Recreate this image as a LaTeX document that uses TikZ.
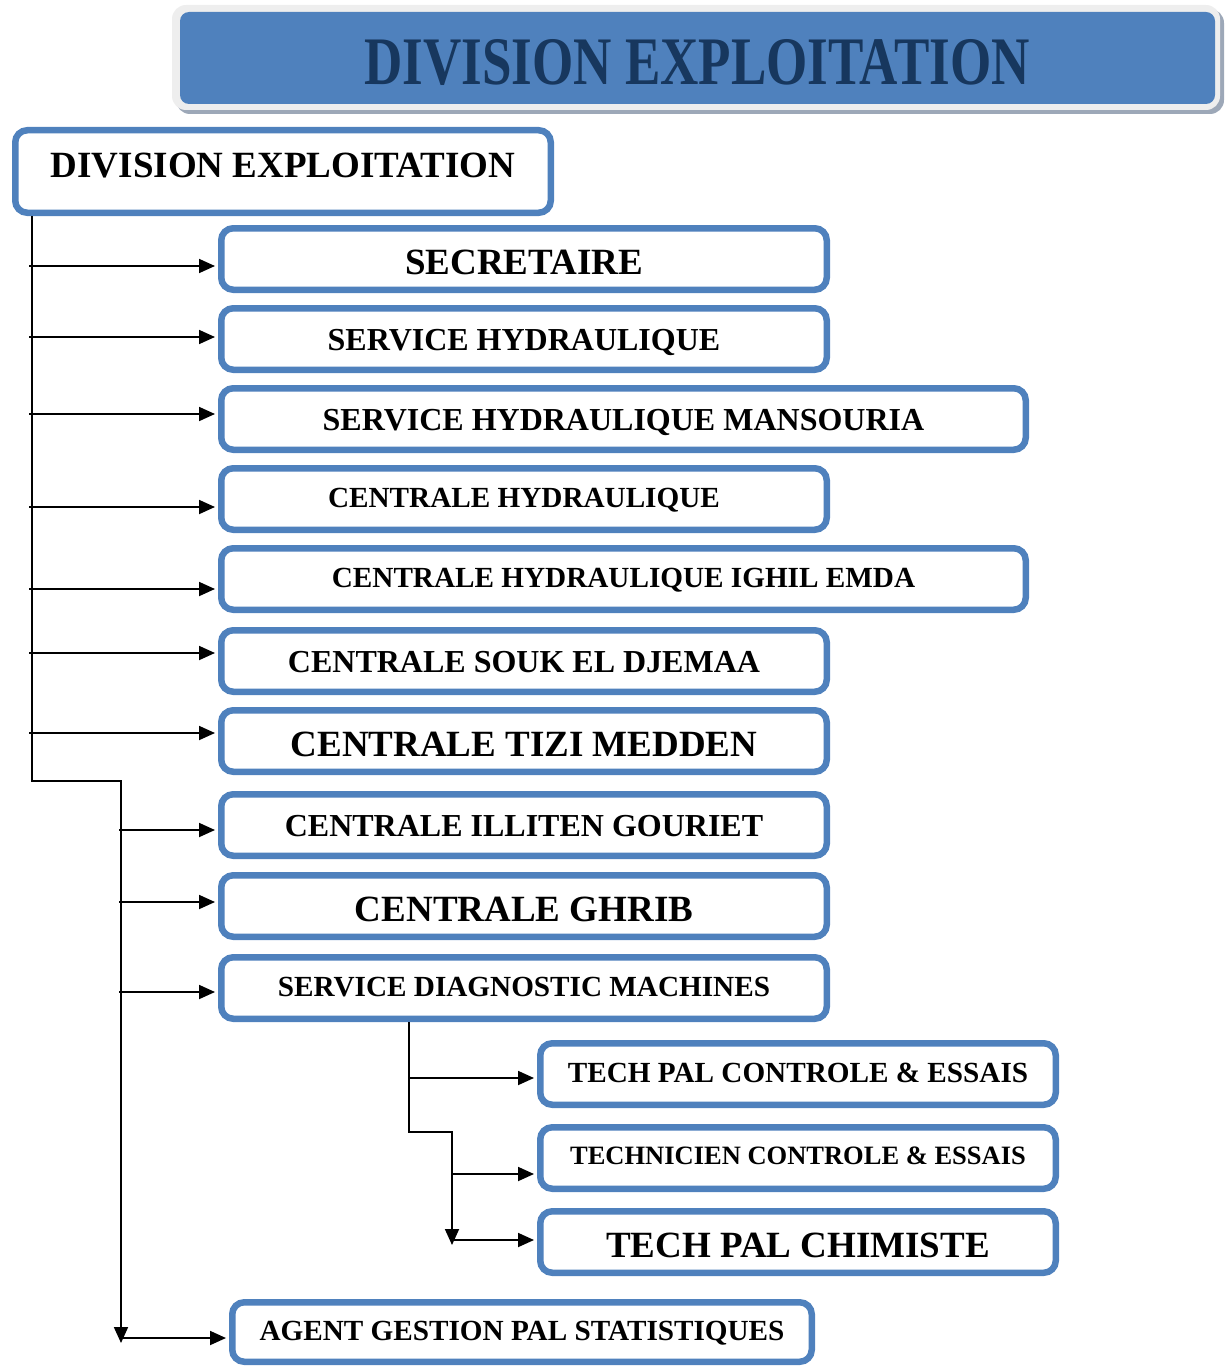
\documentclass[tikz,border=0pt]{standalone}
\usepackage{fontspec}
\setmainfont{Liberation Serif}
\usetikzlibrary{arrows.meta}
\definecolor{boxblue}{HTML}{4F81BD}
\definecolor{navy}{HTML}{17375E}
\definecolor{framegrey}{HTML}{EEEEEE}
\definecolor{shadowgrey}{HTML}{9DA8B8}
\newcommand{\fs}[1]{\fontsize{#1pt}{#1pt}\selectfont\bfseries}
\begin{document}
\begin{tikzpicture}[x=1pt,y=-1pt,
  box/.style={draw=boxblue, line width=6.5pt, rounded corners=12pt, fill=white,
    minimum height=61.5pt, inner sep=0pt, align=center},
  shortbox/.style={box, minimum width=605.5pt},
  longbox/.style={box, minimum width=804.5pt},
  subbox/.style={box, minimum width=515.5pt},
  wire/.style={line width=1.8pt, black},
  arrow/.style={wire, -{Triangle[length=16pt,width=14pt]}, shorten >=3pt},
  downarrow/.style={wire, -{Triangle[length=16pt,width=14pt]}},
  fA/.style={font=\fs{37}, text height=31.2pt, text depth=0pt},
  fB/.style={font=\fs{32}, text height=22pt, text depth=0pt},
  fC/.style={font=\fs{29.2}, text height=17.6pt, text depth=0pt},
  fD/.style={font=\fs{26.5}, text height=13.6pt, text depth=0pt}]
\useasboundingbox (0,0) rectangle (1225,1367);

% title banner
\fill[shadowgrey, rounded corners=14pt] (176,9) rectangle (1224,114);
\fill[framegrey, rounded corners=14pt] (172,5) rectangle (1220,110);
\fill[boxblue, rounded corners=9pt] (180,12) rectangle (1215,104);
\node[text=navy, font=\fs{68}, inner sep=0pt] (title) at (697,63)
  {\scalebox{0.78}[1]{DIVISION EXPLOITATION}};

% head of the division
\node[box, minimum width=535.5pt, minimum height=82.5pt, font=\fs{37},
  text height=11.2pt, text depth=0pt] (main) at (283,171.5)
  {DIVISION EXPLOITATION};

% units
\node[shortbox, fA] (b1) at (524,259) {SECRETAIRE};
\node[shortbox, fB] (b2) at (524,339) {SERVICE HYDRAULIQUE};
\node[longbox, fB] (b3) at (623.5,419) {SERVICE HYDRAULIQUE MANSOURIA};
\node[shortbox, fC] (b4) at (524,499) {CENTRALE HYDRAULIQUE};
\node[longbox, fC] (b5) at (623.5,579) {CENTRALE HYDRAULIQUE IGHIL EMDA};
\node[shortbox, fB] (b6) at (524,661) {CENTRALE SOUK EL DJEMAA};
\node[shortbox, fA] (b7) at (524,741) {CENTRALE TIZI MEDDEN};
\node[shortbox, fB] (b8) at (524,825) {CENTRALE ILLITEN GOURIET};
\node[shortbox, fA] (b9) at (524,906) {CENTRALE GHRIB};
\node[shortbox, fC] (b10) at (524,988) {SERVICE DIAGNOSTIC MACHINES};
\node[subbox, fC] (b11) at (798,1074) {TECH PAL CONTROLE \& ESSAIS};
\node[subbox, fD] (b12) at (798,1158) {TECHNICIEN CONTROLE \& ESSAIS};
\node[subbox, fA] (b13) at (798,1242) {TECH PAL CHIMISTE};
\node[box, minimum width=579.5pt, minimum height=59.5pt, fC] (b14) at (522,1332)
  {AGENT GESTION PAL STATISTIQUES};

% main trunk
\coordinate (k1) at (32,781);
\coordinate (k2) at (121,781);
\coordinate (k3) at (121,1343);
\draw[downarrow] (main.south -| k1) -- (k1) -- (k2) -- (k3);

\coordinate (s1) at (29,266);
\coordinate (s2) at (29,337);
\coordinate (s3) at (29,414);
\coordinate (s4) at (29,507);
\coordinate (s5) at (29,589);
\coordinate (s6) at (29,653);
\coordinate (s7) at (29,733);
\coordinate (s8) at (119,830);
\coordinate (s9) at (119,902);
\coordinate (s10) at (119,992);
\coordinate (s14) at (121,1338);
\foreach \i in {1,...,10} \draw[arrow] (s\i) -- (s\i -| b\i.west);
\draw[arrow] (s14) -- (s14 -| b14.west);

% diagnostic service branch
\coordinate (d1) at (409,1132);
\coordinate (d2) at (452,1132);
\coordinate (d3) at (452,1245);
\coordinate (s11) at (409,1078);
\coordinate (s12) at (452,1174);
\coordinate (s13) at (452,1240);
\draw[downarrow] (b10.south -| d1) -- (d1) -- (d2) -- (d3);
\foreach \i in {11,12,13} \draw[arrow] (s\i) -- (s\i -| b\i.west);
\end{tikzpicture}
\end{document}
